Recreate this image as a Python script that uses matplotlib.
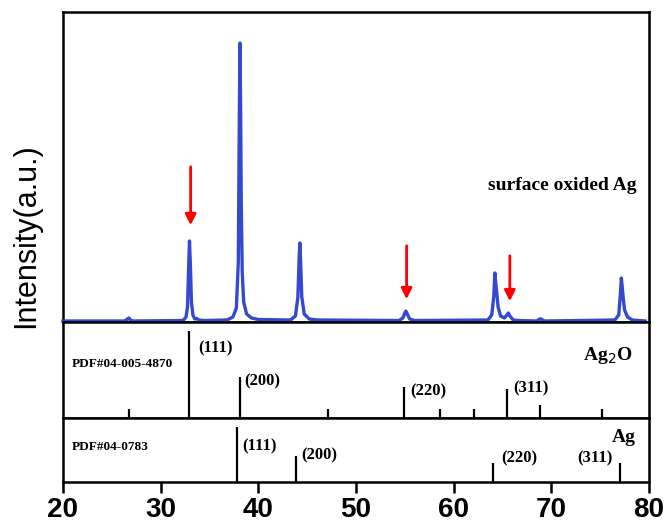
import matplotlib
matplotlib.use('Agg')
import matplotlib.pyplot as plt

# measured XRD pattern (2theta, intensity in arbitrary units)
two_theta = [20.0, 26.3, 26.6, 26.75, 26.9, 27.2,
             32.3, 32.6, 32.75, 32.85, 32.95, 33.05, 33.15, 33.3, 33.5, 33.7, 33.9, 34.5,
             36.8, 37.4, 37.75, 37.95, 38.05, 38.12, 38.18, 38.25, 38.35, 38.5, 38.8, 39.3, 40.0,
             43.3, 43.8, 44.05, 44.18, 44.25, 44.33, 44.45, 44.7, 45.2, 46.0,
             54.4, 54.8, 55.0, 55.1, 55.25, 55.5, 56.0,
             63.5, 63.9, 64.1, 64.22, 64.3, 64.42, 64.55, 64.8, 65.2, 65.45, 65.6, 65.75, 66.1, 66.6,
             68.5, 68.8, 68.95, 69.3,
             76.5, 76.9, 77.05, 77.17, 77.25, 77.38, 77.5, 77.8, 78.3, 79.6]
intensity = [1, 1, 3, 4, 2, 1,
             1.5, 5, 15, 50, 81, 55, 20, 7, 3, 3.5, 2, 1.5,
             2, 5, 14, 60, 200, 279, 220, 120, 50, 20, 8, 4, 2.5,
             2, 6, 25, 65, 79, 60, 25, 8, 3, 2,
             1.5, 4, 9, 11, 8, 3, 1.5,
             2, 7, 25, 49, 40, 28, 15, 6, 4, 7, 9, 6, 2, 1.5,
             1, 3, 3, 1,
             2, 7, 25, 44, 36, 22, 12, 5, 2, 1]

# Ag2O reference (PDF#04-005-4870)
ag2o_pos = [26.76, 32.93, 38.15, 47.16, 54.94, 58.6, 62.07, 65.48, 68.8, 75.2]
ag2o_int = [9, 87, 41, 9, 31, 9, 9, 29, 13, 9]
ag2o_hkl = ['(111)', '(200)', '(220)', '(311)']

# Ag reference (PDF#04-0783)
ag_pos = [37.8, 43.9, 64.04, 77.08]
ag_int = [55, 26, 19, 19]
ag_hkl = ['(111)', '(200)', '(220)', '(311)']

# Ag2O peaks marked with red arrows
arrow_pos = [33.07, 55.18, 65.75]

serif = 'Liberation Serif'
sans = 'Liberation Sans'

fig = plt.figure(figsize=(6.65, 5.24), dpi=100)
gs = fig.add_gridspec(3, 1, height_ratios=[310, 96, 64], hspace=0,
                      left=63/665, right=649/665, top=1-12/524, bottom=1-482/524)
ax1 = fig.add_subplot(gs[0])
ax2 = fig.add_subplot(gs[1], sharex=ax1)
ax3 = fig.add_subplot(gs[2], sharex=ax1)

for ax in (ax1, ax2, ax3):
    for s in ax.spines.values():
        s.set_linewidth(1.8)
    ax.set_yticks([])
    ax.tick_params(axis='x', which='both', bottom=False, labelbottom=False)

# top panel: pattern
ax1.plot(two_theta, intensity, color='#3448d0', lw=2.4, clip_on=False, zorder=5)
ax1.set_ylim(0, 310)
ax1.set_xlim(20, 80)
ax1.text(78.75, 137, 'surface oxided Ag', family=serif, weight='bold', fontsize=14,
         ha='right', va='center')
arrow_top = [158, 79, 69]
arrow_tip = [94, 20, 18]
for x, t, b in zip(arrow_pos, arrow_top, arrow_tip):
    ax1.annotate('', xy=(x, b), xytext=(x, t),
                 arrowprops=dict(arrowstyle='-|>', color='red', lw=2, mutation_scale=16))

# middle panel: Ag2O sticks
ax2.vlines(ag2o_pos, 0, ag2o_int, color='black', lw=1.6)
ax2.set_ylim(0, 96)
ax2.text(20.92, 54, 'PDF#04-005-4870', family=serif, weight='bold', fontsize=9.5, va='center')
ax2.text(78.34, 63, 'Ag$_2$O', family=serif, weight='bold', fontsize=14, ha='right', va='center')
hkl_xy2 = [(33.82, 70), (38.53, 37), (55.52, 27), (66.06, 30)]
for lab, (x, y) in zip(ag2o_hkl, hkl_xy2):
    ax2.text(x, y, lab, family=serif, weight='bold', fontsize=12, va='center')

# bottom panel: Ag sticks
ax3.vlines(ag_pos, 0, ag_int, color='black', lw=1.6)
ax3.set_ylim(0, 64)
ax3.text(20.92, 35, 'PDF#04-0783', family=serif, weight='bold', fontsize=9.5, va='center')
ax3.text(78.7, 45, 'Ag', family=serif, weight='bold', fontsize=14, ha='right', va='center')
hkl_xy3 = [(38.32, 36, 'left'), (44.36, 27, 'left'), (64.83, 24, 'left'), (76.3, 24, 'right')]
for lab, (x, y, ha) in zip(ag_hkl, hkl_xy3):
    ax3.text(x, y, lab, family=serif, weight='bold', fontsize=12, va='center', ha=ha)

ax3.set_xticks([20, 30, 40, 50, 60, 70, 80])
ax3.tick_params(axis='x', bottom=True, labelbottom=True, direction='out',
                length=8, width=1.8, pad=3)
for lbl in ax3.get_xticklabels():
    lbl.set_family(sans)
    lbl.set_weight('bold')
    lbl.set_fontsize(20)

fig.text(26/665, 1-236/524, 'Intensity(a.u.)', family=sans, fontsize=22,
         rotation=90, ha='center', va='center')

fig.savefig('out.png', dpi=100)
